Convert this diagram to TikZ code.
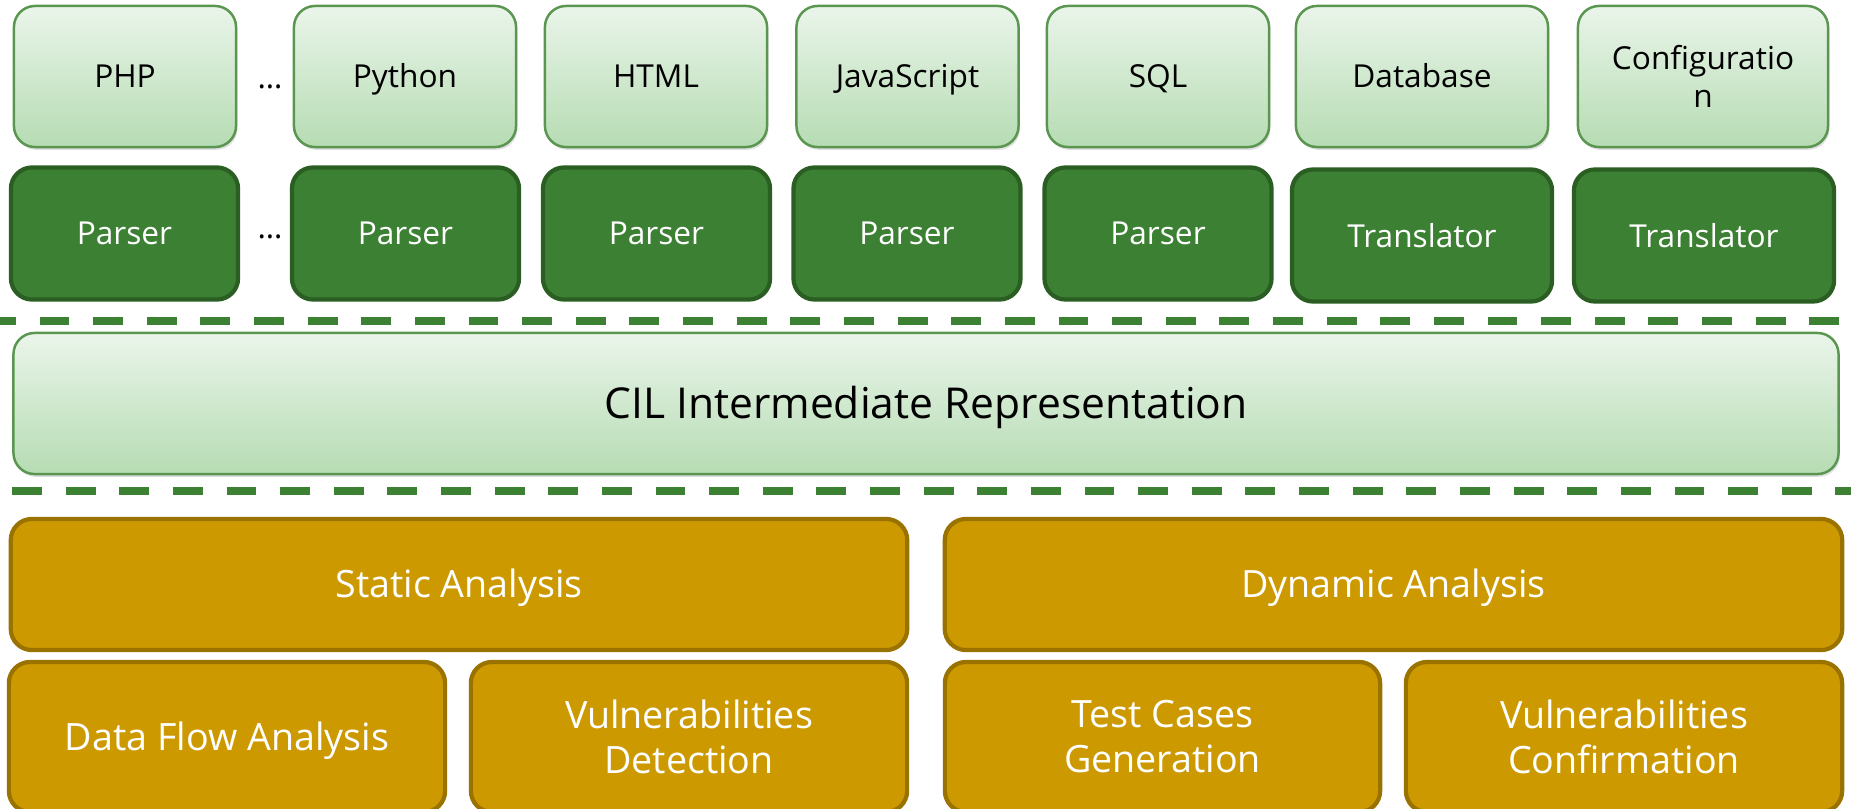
\documentclass[tikz,border=0pt]{standalone}
\usepackage{fontspec}
\setmainfont{Open Sans}
\usetikzlibrary{shadows}
\definecolor{langtop}{HTML}{EAF5EA}
\definecolor{langbot}{HTML}{B6DCB3}
\definecolor{langline}{HTML}{5A9650}
\definecolor{parsefill}{HTML}{3C8133}
\definecolor{parseline}{HTML}{2B5E23}
\definecolor{goldfill}{HTML}{CC9900}
\definecolor{goldline}{HTML}{9A7200}
\tikzset{font={\fontsize{9pt}{10.8pt}\selectfont}}

\begin{document}
\begin{tikzpicture}[x=0.01cm,y=-0.01cm,
    lang node/.style={rectangle,rounded corners=6pt,draw=langline,line width=0.7pt,
      top color=langtop,bottom color=langbot,minimum height=1.41cm,align=center,
      drop shadow={opacity=0.25,shadow xshift=0.4pt,shadow yshift=-0.8pt}},
    parser node/.style={rectangle,rounded corners=6pt,draw=parseline,line width=1.2pt,
      fill=parsefill,text=white,minimum height=1.32cm,align=center},
    ana node/.style={rectangle,rounded corners=6pt,draw=goldline,line width=1.2pt,
      fill=goldfill,text=white,align=center,font=\fontsize{10.7pt}{12.8pt}\selectfont},
    flat/.style={text height=#1,text depth=0pt},
    sep line/.style={draw=parsefill,line width=2pt,dash pattern=on 8.5pt off 6.75pt}]

  \useasboundingbox (0,0) rectangle (1851,809);
  \clip (0,0) rectangle (1851,809);

  \node[lang node,flat=6.4pt,minimum width=2.22cm] (l1) at (125,76.5) {PHP};
  \node[lang node,flat=6.4pt,minimum width=2.22cm] (l2) at (405,76.5) {Python};
  \node[lang node,flat=6.4pt,minimum width=2.22cm] (l3) at (656,76.5) {HTML};
  \node[lang node,flat=6.4pt,minimum width=2.22cm] (l4) at (907.5,76.5) {JavaScript};
  \node[lang node,flat=6.4pt,minimum width=2.22cm] (l5) at (1158,76.5) {SQL};
  \node[lang node,flat=6.4pt,minimum width=2.52cm] (l6) at (1422,76.5) {Database};
  \node[lang node,minimum width=2.50cm] (l7) at (1703,76.5) {Configuratio\\n};

  \node[parser node,minimum width=2.27cm] (p1) at (124.5,233.5) {Parser};
  \node[parser node,minimum width=2.27cm] (p2) at (405.5,233.5) {Parser};
  \node[parser node,minimum width=2.27cm] (p3) at (656.5,233.5) {Parser};
  \node[parser node,minimum width=2.27cm] (p4) at (907,233.5) {Parser};
  \node[parser node,minimum width=2.27cm] (p5) at (1158,233.5) {Parser};
  \node[parser node,minimum width=2.60cm] (p6) at (1422,235.5) {Translator};
  \node[parser node,minimum width=2.60cm] (p7) at (1704,235.5) {Translator};

  \node[anchor=base] (d1) at (270,88) {\dots};
  \node[anchor=base] (d2) at (270,238) {\dots};

  \path[sep line,dash phase=4pt] (0,321) -- (1851,321);

  \node[lang node,flat=8.7pt,minimum width=18.24cm,font=\fontsize{12.1pt}{15pt}\selectfont] (cil) at (926,403.5)
    {CIL Intermediate Representation};

  \path[sep line] (12,491) -- (1851,491);

  \node[ana node,flat=7.6pt,minimum width=8.96cm,minimum height=1.31cm] (sa) at (459,584.5) {Static Analysis};
  \node[ana node,flat=7.6pt,minimum width=8.97cm,minimum height=1.31cm] (da) at (1393.5,584.5) {Dynamic Analysis};

  \node[ana node,flat=7.6pt,minimum width=4.36cm,minimum height=1.5cm] (s1) at (227,737) {Data Flow Analysis};
  \node[ana node,minimum width=4.36cm,minimum height=1.5cm] (s2) at (689,737) {Vulnerabilities\\Detection};
  \node[ana node,minimum width=4.35cm,minimum height=1.5cm] (t1) at (1162.5,737) {Test Cases\\Generation};
  \node[ana node,minimum width=4.36cm,minimum height=1.5cm] (t2) at (1624,737) {Vulnerabilities\\Confirmation};
\end{tikzpicture}
\end{document}
